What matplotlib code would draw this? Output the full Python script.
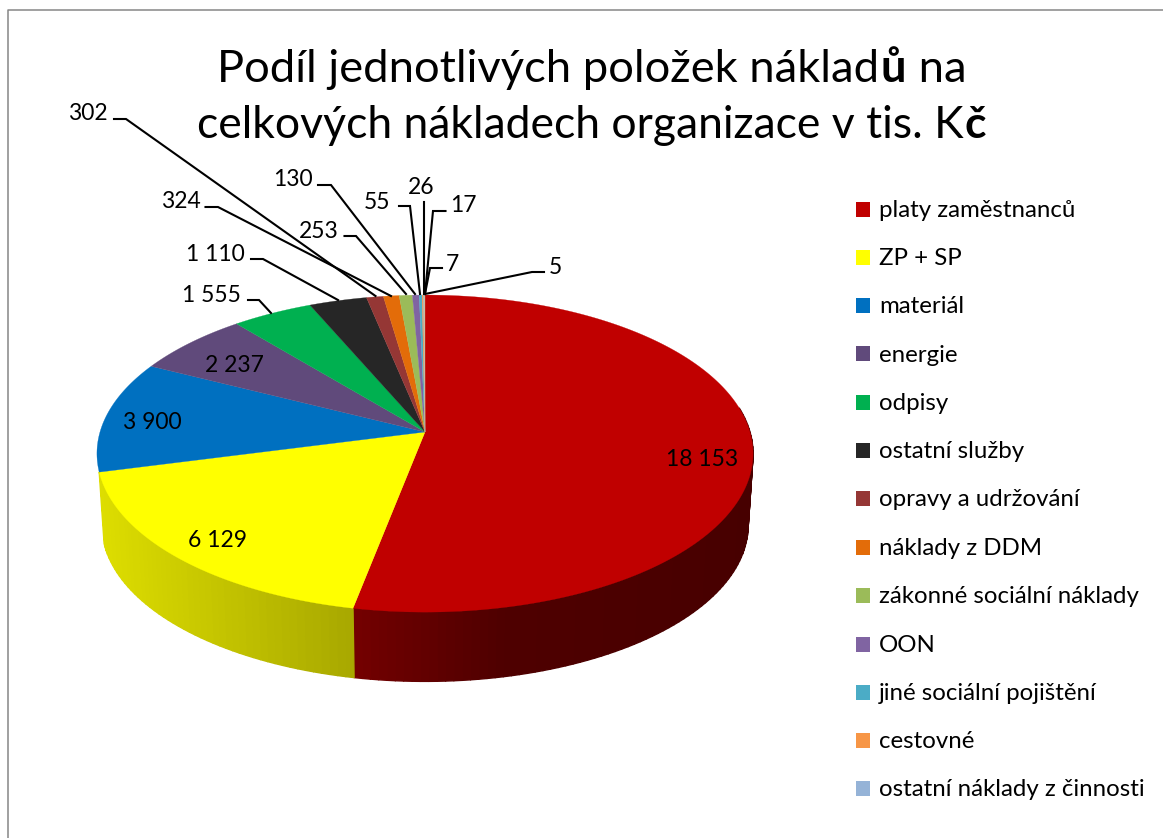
import numpy as np
import matplotlib
matplotlib.use("Agg")
import matplotlib.pyplot as plt
from matplotlib.collections import PolyCollection
from matplotlib.patches import Rectangle
from matplotlib.colors import to_rgb

plt.rcParams['font.family'] = ['Lato', 'DejaVu Sans']

# ---- data ----
values = [18153, 6129, 3900, 2237, 1555, 1110, 324, 302, 253, 130, 55, 26, 17, 7, 5]
value_labels = ['18 153', '6 129', '3 900', '2 237', '1 555', '1 110', '324', '302',
                '253', '130', '55', '26', '17', '7', '5']
legend_names = ['platy zaměstnanců', 'ZP + SP', 'materiál', 'energie', 'odpisy',
                'ostatní služby', 'opravy a udržování', 'náklady z DDM',
                'zákonné sociální náklady', 'OON', 'jiné sociální pojištění',
                'cestovné', 'ostatní náklady z činnosti']
colors = ['#C00000', '#FFFF00', '#0070C0', '#604A7B', '#00B050', '#262626', '#953735',
          '#E36C09', '#9BBB59', '#8064A2', '#4BACC6', '#F79646', '#95B3D7', '#D99694', '#C3D69B']
inside_pos = {0: (702, 459), 1: (218, 540), 2: (152, 422), 3: (234, 365)}
outside_text = {4: (241, 295, 'right'), 5: (245, 254, 'right'), 6: (201, 201, 'right'),
                7: (108, 114, 'right'), 8: (339, 231, 'right'), 9: (313, 179, 'right'),
                10: (390, 202, 'right'), 11: (421.5, 188, 'center'), 12: (450, 205, 'left'),
                13: (446, 264, 'left'), 14: (549, 267, 'left')}
leaders = {4: [(248, 300), (259, 300), (271, 313)],
           5: [(251, 259), (263, 259), (338, 300)],
           6: [(205.5, 207), (218, 207), (391, 296)],
           7: [(114, 119), (126, 119), (375.5, 296)],
           8: [(344.5, 236), (356, 236), (406, 294)],
           9: [(318, 185), (331, 185), (415, 294)],
           10: [(399, 206), (410, 206), (420, 294)],
           11: [(423.5, 202), (423.5, 294)],
           12: [(445.5, 211), (433, 211), (425, 294)],
           13: [(442, 268), (430, 268), (425, 294)],
           14: [(544, 272), (532, 272), (425, 294)]}
title_lines = [[('Podíl jednotlivých položek náklad', 'normal'), ('ů', 'bold'), (' na', 'normal')],
               [('celkových nákladech organizace v tis. K', 'normal'), ('č', 'bold')]]

W, H = 1163, 838
fig = plt.figure(figsize=(W / 100, H / 100), dpi=100, facecolor='white')
ax = fig.add_axes([0, 0, 1, 1])
ax.set_xlim(0, W)
ax.set_ylim(H, 0)
ax.axis('off')

# frame
ax.plot([W + 5, 8, 8], [10, 10, H + 5], color='#868686', lw=1.1)

# ---- perspective pie geometry ----
CX, CY, RX, RY, K = 425, 432, 325, 155.6, 0.136
DEPTH, SHRINK = 72, 0.985


def top_face(theta):
    xc, yc = np.sin(theta), np.cos(theta)
    d = 1 + K * yc
    return CX + RX * xc / d, CY - RY * yc / d


def bottom_face(theta):
    x, y = top_face(theta)
    return CX + SHRINK * (x - CX), CY + SHRINK * (y - CY) + DEPTH


def shade(i, x):
    if i == 0:
        return np.interp(x, [355, 500, 753], [0.60, 0.41, 0.37])
    return np.interp(x, [97, 350], [0.87, 0.66])


edges = np.concatenate([[0], np.cumsum(values)]) / np.sum(values) * 2 * np.pi

# side wall: only the two front slices show a wall
polys, facecols = [], []
for i in range(2):
    a0, a1 = max(edges[i], np.pi * 0.45), edges[i + 1]
    th = np.linspace(a0, a1, max(2, int((a1 - a0) * 45)))
    xt, yt = top_face(th)
    xb, yb = bottom_face(th)
    for j in range(len(th) - 1):
        polys.append([(xt[j], yt[j]), (xt[j + 1], yt[j + 1]), (xb[j + 1], yb[j + 1]), (xb[j], yb[j])])
        f = shade(i, (xt[j] + xt[j + 1]) / 2)
        facecols.append(tuple(c * f for c in to_rgb(colors[i])))
ax.add_collection(PolyCollection(polys, facecolors=facecols, edgecolors=facecols, linewidths=1.0, zorder=2))

# top face
for i in range(len(values)):
    th = np.linspace(edges[i], edges[i + 1], max(2, int((edges[i + 1] - edges[i]) * 200)))
    x, y = top_face(th)
    ax.fill(np.r_[CX, x], np.r_[CY, y], facecolor=colors[i], edgecolor=colors[i], lw=0.2, zorder=3)

# ---- value labels ----
LABEL_FS = 16.5
for i, (x, y) in inside_pos.items():
    ax.text(x, y, value_labels[i], fontsize=LABEL_FS, ha='center', va='center', color='black', zorder=5)
for i, (x, y, ha) in outside_text.items():
    ax.text(x, y, value_labels[i], fontsize=LABEL_FS, ha=ha, va='center', color='black', zorder=5)
for pts in leaders.values():
    xs, ys = zip(*pts)
    ax.plot(xs, ys, color='black', lw=1.5, zorder=4, solid_joinstyle='miter')

# ---- legend ----
legend_y = [209, 257, 305.5, 354, 402, 450, 498, 547, 595, 644, 692, 740, 788]
for name, col, y in zip(legend_names, colors, legend_y):
    ax.add_patch(Rectangle((856, y - 7.5), 14, 15, facecolor=col, edgecolor='none', zorder=5))
    ax.text(879, y + 1, name, fontsize=17.3, ha='left', va='center', color='black', zorder=5)

# ---- title ----
renderer = fig.canvas.get_renderer()
for pieces, x0, y0, fs in zip(title_lines, [217, 197], [65, 122], [32.6, 32.0]):
    x = x0
    for s, w in pieces:
        t = ax.text(x, y0, s, fontsize=fs, fontweight=w, ha='left', va='center_baseline', color='black')
        adv = t.get_window_extent(renderer).width
        if s.startswith(' '):
            adv += 8
        x += adv + 1

fig.savefig('out.png', dpi=100)
